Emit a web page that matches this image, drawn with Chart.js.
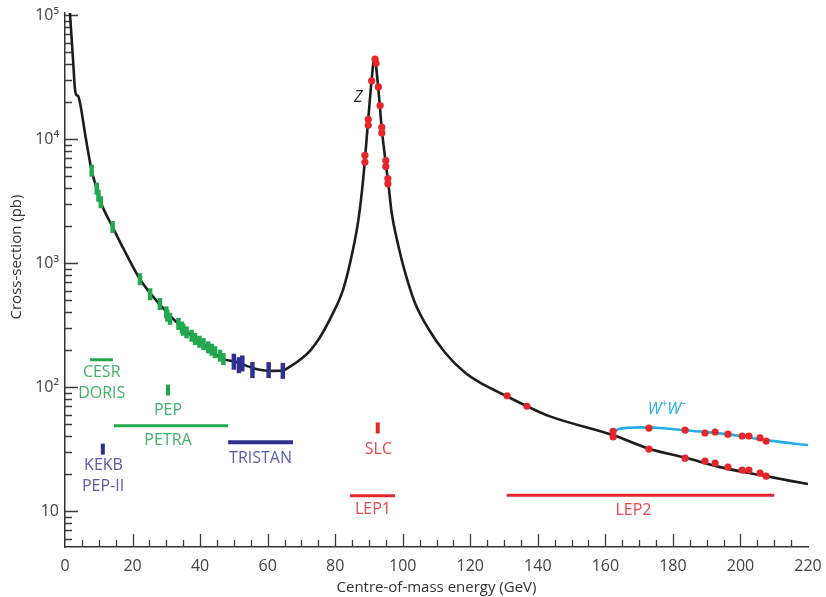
<!DOCTYPE html>
<html>
<head>
<meta charset="utf-8">
<title>Cross-section vs centre-of-mass energy</title>
<script src="https://cdn.jsdelivr.net/npm/chart.js@4"></script>
<style>
  body { margin: 0; background: #fff; }
</style>
</head>
<body>
<canvas id="xs-chart" width="826" height="597"></canvas>
<script>
// e+e- -> hadrons, theory curve (energy in GeV, cross-section in pb)
const curveE  = [1.4, 2.37, 2.96, 3.4, 3.85, 4.44, 6.2, 7.9, 9.5, 10.6, 14.1, 17.8, 22.2, 28.1, 36, 41, 46.9,
                 50.6, 55.8, 60.7, 64.5, 66.6, 69.6, 72.6, 75.5, 78.5, 82.4, 84.9, 86.9, 88.3, 89.7, 90.8, 91.6,
                 92.8, 93.8, 95.0, 95.7, 96.7, 98.7, 100.7, 103.6, 107.6, 112.5, 118.4, 124.4, 129.8, 136.8, 143.6,
                 162.3, 172.6, 183.6, 194, 205.8, 220];
const curveXS = [110000, 44000, 25200, 22600, 22300, 19600, 10000, 5560, 3900, 3090, 1950, 1230, 740, 462, 280, 220, 168,
                 160, 142, 135, 136, 146, 166, 197, 252, 355, 617, 1150, 2260, 4780, 13500, 30000, 45000,
                 25000, 12000, 6300, 4480, 2570, 1380, 841, 479, 295, 190, 131, 103, 87, 70, 58,
                 41, 32, 27, 22.6, 19.5, 16.5];

// W+W- production curve
const wwCurveE  = [162.3, 164, 167, 170, 175, 183, 190, 200, 207, 220];
const wwCurveXS = [43.5, 45.8, 47, 47.3, 47, 45, 43.3, 40.3, 37.5, 34];

// measurements
const greenE  = [7.9, 9.4, 9.9, 10.6, 14.1, 22.2, 25.2, 28.1, 30.0, 30.3, 31.1, 33.6, 34.6, 35.0, 36, 37.5, 38.5,
                 39.8, 41, 42.4, 43.5, 44.4, 45.9, 46.9];
const greenXS = [5560, 3980, 3490, 3090, 1950, 740, 560, 467, 400, 376, 355, 323, 302, 290, 276, 259, 244,
                 232, 222, 209, 200, 191, 179, 168];
const blueE  = [50.0, 51.5, 52.5, 55.5, 60.3, 64.5];
const blueXS = [160, 150, 155, 137, 137, 135];
const zE  = [91.8, 92.1, 90.8, 89.8, 89.8, 88.8, 88.8, 92.8, 93.3, 93.8, 93.8, 95.0, 95.0, 95.6, 95.6];
const zXS = [44000, 40800, 29500, 14400, 12900, 7400, 6500, 26300, 18600, 12400, 11200, 6700, 6000, 4800, 4350];
const lep2E  = [130.9, 136.8, 162.3, 172.9, 183.6, 189.5, 192.5, 196.3, 200.5, 202.5, 205.8, 207.6];
const lep2XS = [85, 70, 39.6, 31.6, 26.7, 25.3, 24.4, 22.6, 21.4, 21.4, 20.2, 19.1];
const wwE  = [162.3, 172.9, 183.6, 189.5, 192.5, 196.3, 200.5, 202.5, 205.8, 207.6];
const wwXS = [44, 46.7, 45, 42.6, 43.4, 41.7, 40.3, 40.3, 38.9, 36.7];

// accelerator energy ranges
const rangeName  = ['CESR/DORIS', 'PETRA', 'TRISTAN', 'LEP1', 'LEP2'];
const rangeStart = [7.4, 14.5, 48.3, 84.4, 130.8];
const rangeEnd   = [14.2, 48.3, 67.5, 97.7, 210];
const rangeXS    = [166, 48.7, 35.8, 13.3, 13.4];
// single-energy machines
const markName = ['PEP', 'KEKB/PEP-II', 'SLC'];
const markE    = [30.5, 11.2, 92.6];
const markXS   = [94.6, 31.6, 46.8];

// labels
const labelText = ['CESR', 'DORIS', 'PEP', 'PETRA', 'TRISTAN', 'KEKB', 'PEP-II', 'SLC', 'LEP1', 'LEP2'];
const labelE    = [10.87, 10.87, 30.5, 30.5, 57.9, 11.4, 11.25, 92.8, 91.2, 168.3];
const labelXS   = [132, 88, 65.3, 37.4, 26.7, 23.5, 15.9, 31.6, 10.4, 10.2];

const yTicks = [10, 100, 1000, 10000, 100000];
const yTickText = ['10', '10\u00B2', '10\u00B3', '10\u2074', '10\u2075'];

const GREEN = '#22a94f', GREEN_TXT = '#3fb26a';
const NAVY = '#2e3192', NAVY_TXT = '#5a5ca6';
const RED = '#e5262b', RED_TXT = '#e8484c';
const CYAN = '#23ade2';
const FONT = '"Open Sans", "Noto Sans", sans-serif';

const labelColor = { CESR: GREEN_TXT, DORIS: GREEN_TXT, PEP: GREEN_TXT, PETRA: GREEN_TXT,
  TRISTAN: NAVY_TXT, KEKB: NAVY_TXT, 'PEP-II': NAVY_TXT, SLC: RED_TXT, LEP1: RED_TXT, LEP2: RED_TXT };
const rangeColor = [GREEN, GREEN, NAVY, RED, RED];
const markColor = [GREEN, NAVY, RED];

const pts = (xs, ys) => xs.map((v, i) => ({ x: v, y: ys[i] }));

const datasets = [];
// dots and error bars on top (lower order draws last)
datasets.push({ data: pts(zE, zXS), pointStyle: 'circle', pointRadius: 3.6, backgroundColor: RED, borderWidth: 0, order: 0 });
datasets.push({ data: pts(lep2E, lep2XS), pointStyle: 'circle', pointRadius: 3.6, backgroundColor: RED, borderWidth: 0, order: 0 });
datasets.push({ data: pts(wwE, wwXS), pointStyle: 'circle', pointRadius: 3.6, backgroundColor: RED, borderWidth: 0, order: 0 });
datasets.push({ data: pts(greenE, greenXS), pointStyle: 'line', rotation: 90, pointRadius: 6, borderColor: GREEN, borderWidth: 4.5, order: 0 });
datasets.push({ data: pts(blueE, blueXS), pointStyle: 'line', rotation: 90, pointRadius: 8, borderColor: NAVY, borderWidth: 4.5, order: 0 });
markE.forEach((e, i) => {
  datasets.push({ label: markName[i], data: [{ x: e, y: markXS[i] }], pointStyle: 'line', rotation: 90,
    pointRadius: 5.5, borderColor: markColor[i], borderWidth: 4, order: 0 });
});
rangeStart.forEach((s, i) => {
  datasets.push({ label: rangeName[i], data: [{ x: s, y: rangeXS[i] }, { x: rangeEnd[i], y: rangeXS[i] }],
    showLine: true, pointRadius: 0, borderColor: rangeColor[i], borderWidth: i === 2 ? 4 : 3, order: 1 });
});
datasets.push({ data: pts(wwCurveE, wwCurveXS), showLine: true, pointRadius: 0, borderColor: CYAN, borderWidth: 2.6,
  cubicInterpolationMode: 'monotone', order: 2 });
datasets.push({ data: pts(curveE, curveXS), showLine: true, pointRadius: 0, borderColor: '#1d1d1b', borderWidth: 2.6,
  cubicInterpolationMode: 'monotone', order: 2 });

// inward tick marks, axis title and text labels
const decor = {
  id: 'decor',
  beforeDatasetsDraw(chart) {
    const { ctx, chartArea: a } = chart;
    const x = chart.scales.x, y = chart.scales.y;
    ctx.save();
    ctx.strokeStyle = '#3a3a3a';
    ctx.lineWidth = 1.3;
    ctx.beginPath();
    for (let e = 5; e < 220; e += 5) {
      const px = Math.round(x.getPixelForValue(e)) + 0.5;
      const len = e % 20 === 0 ? 13 : 7;
      ctx.moveTo(px, a.bottom);
      ctx.lineTo(px, a.bottom - len);
    }
    for (let k = 0; k <= 5; k++) {
      for (let d = 1; d <= 9; d++) {
        const v = d * Math.pow(10, k);
        if (v < y.min || v > y.max) continue;
        const py = Math.round(y.getPixelForValue(v)) + 0.5;
        ctx.moveTo(a.left, py);
        ctx.lineTo(a.left + (d === 1 ? 13 : 7), py);
      }
    }
    ctx.stroke();

    // y axis title
    ctx.fillStyle = '#333';
    ctx.font = '15px ' + FONT;
    ctx.textAlign = 'center';
    ctx.textBaseline = 'middle';
    ctx.translate(17, 257);
    ctx.rotate(-Math.PI / 2);
    ctx.fillText('Cross-section (pb)', 0, 0);
    ctx.restore();
  },
  afterDatasetsDraw(chart) {
    const { ctx } = chart;
    const x = chart.scales.x, y = chart.scales.y;
    ctx.save();
    ctx.textAlign = 'center';
    ctx.textBaseline = 'middle';
    ctx.font = '16px ' + FONT;
    labelText.forEach((t, i) => {
      ctx.fillStyle = labelColor[t];
      ctx.fillText(t, x.getPixelForValue(labelE[i]), y.getPixelForValue(labelXS[i]));
    });

    // Z
    ctx.fillStyle = '#222';
    ctx.font = 'italic 16px ' + FONT;
    ctx.fillText('Z', x.getPixelForValue(86.8), y.getPixelForValue(21800));

    // W+W-
    const wx = x.getPixelForValue(178.3), wy = y.getPixelForValue(66.5);
    ctx.fillStyle = CYAN;
    ctx.textAlign = 'left';
    const big = 'italic 16px ' + FONT, small = '10px ' + FONT;
    ctx.font = big;
    const wW = ctx.measureText('W').width;
    ctx.font = small;
    const pW = ctx.measureText('+').width, mW = ctx.measureText('\u2212').width;
    let cx = wx - (2 * wW + pW + mW) / 2;
    ctx.font = big; ctx.fillText('W', cx, wy); cx += wW;
    ctx.font = small; ctx.fillText('+', cx, wy - 5); cx += pW;
    ctx.font = big; ctx.fillText('W', cx, wy); cx += wW;
    ctx.font = small; ctx.fillText('\u2212', cx, wy - 5);
    ctx.restore();
  }
};

const chart = new Chart(document.getElementById('xs-chart').getContext('2d'), {
  type: 'scatter',
  data: { datasets: datasets },
  options: {
    responsive: false,
    animation: false,
    events: [],
    layout: { padding: { top: 13, right: 18, left: 0, bottom: 0 } },
    plugins: { legend: { display: false }, tooltip: { enabled: false } },
    scales: {
      x: {
        type: 'linear',
        min: 0,
        max: 220,
        afterFit: (s) => { s.height = 50; s.paddingLeft = 0; s.paddingRight = 0; },
        grid: { display: false, drawTicks: false },
        border: { display: true, color: '#333', width: 1.5 },
        ticks: { stepSize: 20, padding: 10, color: '#444', font: { family: FONT, size: 16 } },
        title: { display: true, text: 'Centre-of-mass energy (GeV)', color: '#333',
                 font: { family: FONT, size: 15 }, padding: { top: 0, bottom: 0 } }
      },
      y: {
        type: 'logarithmic',
        min: 5.13,
        max: 103800,
        afterFit: (s) => { s.width = 65; s.paddingTop = 0; s.paddingBottom = 0; },
        afterBuildTicks: (s) => { s.ticks = yTicks.map(v => ({ value: v })); },
        grid: { display: false, drawTicks: false },
        border: { display: true, color: '#333', width: 1.5 },
        ticks: {
          padding: 6,
          color: '#444',
          font: { family: FONT, size: 16 },
          callback: (v) => { const i = yTicks.indexOf(v); return i < 0 ? '' : yTickText[i]; }
        }
      }
    }
  },
  plugins: [decor]
});
</script>
</body>
</html>
